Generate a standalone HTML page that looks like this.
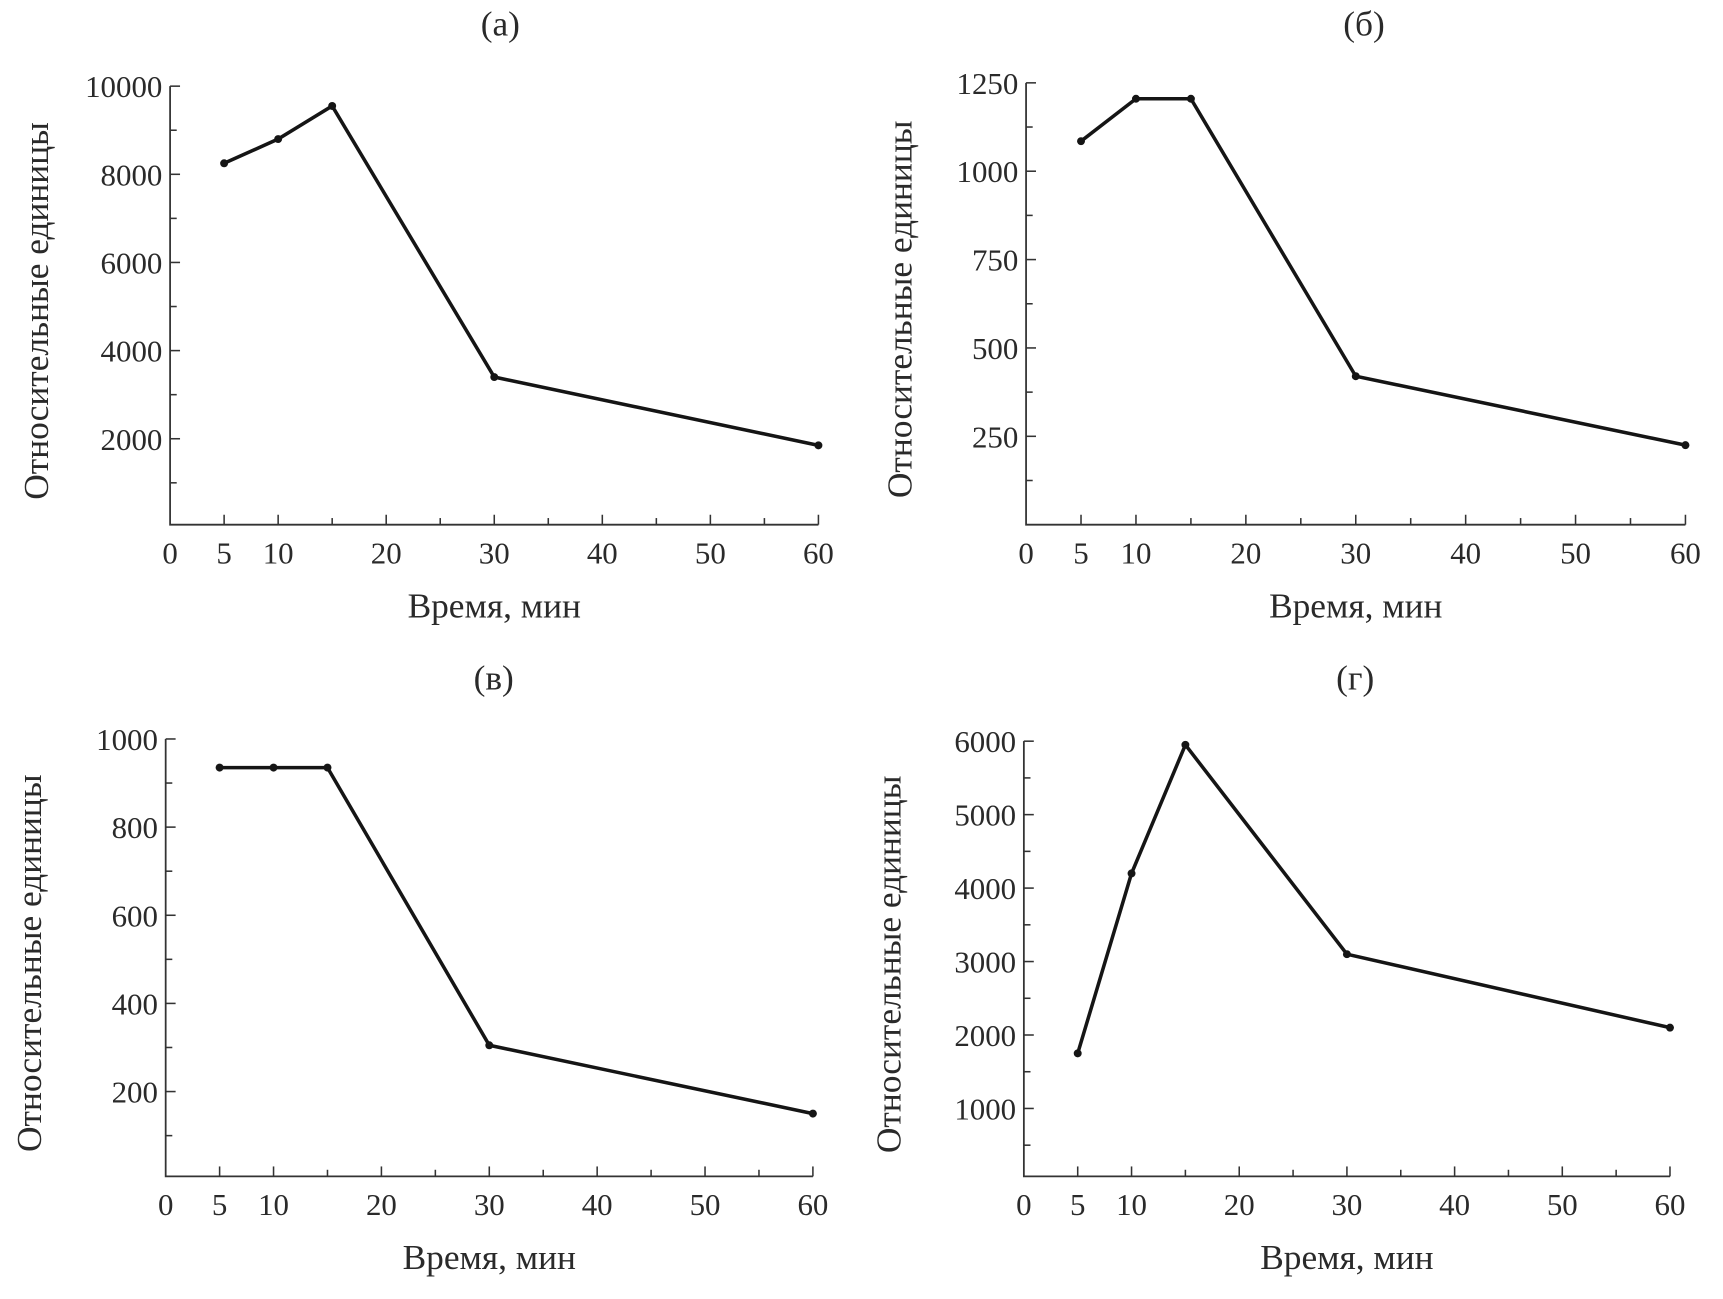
<!DOCTYPE html>
<html><head><meta charset="utf-8"><style>
html,body{margin:0;padding:0;background:#fff}
svg{display:block}
text{font-family:"Liberation Serif",serif;fill:#2a2a2a}
</style></head><body>
<svg id="fig" width="1723" height="1299" viewBox="0 0 1560 1176" preserveAspectRatio="none"></svg>
<script>
const xTicks=[0,5,10,20,30,40,50,60];
const xMinor=[5,10,15,20,25,30,35,40,45,50,55,60];
const times=[5,10,15,30,60];
const seriesA=[8250,8800,9550,3400,1850];
const seriesB=[1085,1205,1205,420,225];
const seriesC=[935,935,935,305,150];
const seriesD=[1750,4200,5950,3100,2100];
const yTicksA=[2000,4000,6000,8000,10000];
const yTicksB=[250,500,750,1000,1250];
const yTicksC=[200,400,600,800,1000];
const yTicksD=[1000,2000,3000,4000,5000,6000];
const panels=[
 {id:'a',title:'(а)',vals:seriesA,ticks:yTicksA,minor:1000,ymax:10000,x0:154,x1:741,base:475,zero:477,ytop:78,tx:453,ty:25,lx:36},
 {id:'b',title:'(б)',vals:seriesB,ticks:yTicksB,minor:125,ymax:1250,x0:929,x1:1526,base:475,zero:475,ytop:75,tx:1235,ty:25,lx:818},
 {id:'c',title:'(в)',vals:seriesC,ticks:yTicksC,minor:100,ymax:1000,x0:150,x1:736,base:1065,zero:1068,ytop:669,tx:447,ty:617,lx:30},
 {id:'d',title:'(г)',vals:seriesD,ticks:yTicksD,minor:500,ymax:6000,x0:927,x1:1512,base:1065,zero:1070,ytop:671,tx:1227,ty:617,lx:808}
];
const NS='http://www.w3.org/2000/svg';
const svg=document.getElementById('fig');
function mk(tag,attrs,parent,txt){const e=document.createElementNS(NS,tag);for(const k in attrs)e.setAttribute(k,attrs[k]);if(txt!==undefined)e.textContent=txt;parent.appendChild(e);return e;}
panels.forEach(p=>{
 const g=mk('g',{},svg);
 
 
 const X=v=>p.x0+(p.x1-p.x0)*v/60;
 const Y=v=>p.zero-(p.zero-p.ytop)*v/p.ymax;
 const t=mk('text',{x:p.tx,y:p.ty,'font-size':32,'text-anchor':'middle','dominant-baseline':'middle'},g,p.title);
 
 
 const ax=mk('path',{d:`M${p.x0} ${p.ytop}V${p.base}H${p.x1}`,stroke:'#333',fill:'none','stroke-width':1.6},g);
 
 
 xMinor.forEach(v=>{const major=v%10===0||v===5;
  const tk=mk('line',{x1:X(v),x2:X(v),y1:p.base,y2:p.base-(major?9:6),stroke:'#333','stroke-width':1.4},g);
  
  });
 xTicks.forEach(v=>{const l=mk('text',{x:X(v),y:p.base+35,'font-size':28,'text-anchor':'middle'},g,String(v));
  
  });
 for(let v=p.minor;v<=p.ymax+0.1;v+=p.minor){const major=p.ticks.includes(v);
  const tk=mk('line',{x1:p.x0,x2:p.x0+(major?9:6),y1:Y(v),y2:Y(v),stroke:'#333','stroke-width':1.4},g);
  
  }
 p.ticks.forEach(v=>{const l=mk('text',{x:p.x0-7,y:Y(v)+10,'font-size':28,'text-anchor':'end'},g,String(v));
  
  });
 const xt=mk('text',{x:(p.x0+p.x1)/2,y:p.base+84,'font-size':32,'text-anchor':'middle'},g,'Время, мин');
 
 
 const cy=(p.ytop+p.base)/2+5;
 const yt=mk('text',{x:p.lx,y:cy,'font-size':32,'text-anchor':'middle',transform:`rotate(-90 ${p.lx} ${cy})`,'dominant-baseline':'middle'},g,'Относительные единицы');
 
 
 const pts=times.map((tm,i)=>X(tm)+','+Y(p.vals[i])).join(' ');
 const ln=mk('polyline',{points:pts,fill:'none',stroke:'#151515','stroke-width':3.2,'stroke-linejoin':'miter'},g);
 
 
 times.forEach((tm,i)=>{const c=mk('circle',{cx:X(tm),cy:Y(p.vals[i]),r:3.6,fill:'#151515'},g);
  
  });
});
</script>
</body></html>
